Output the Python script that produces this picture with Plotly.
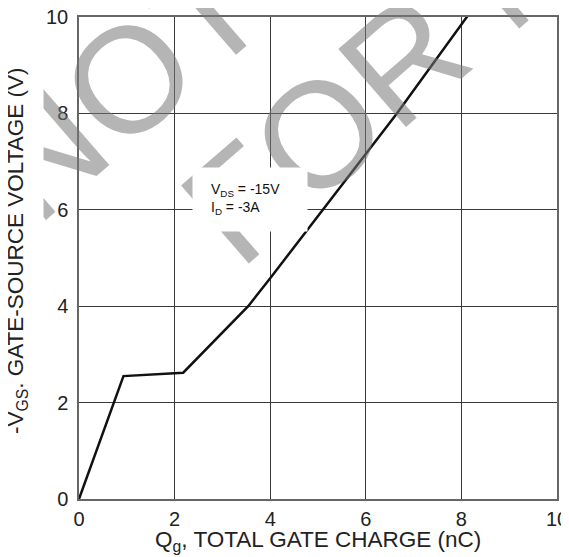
import plotly.graph_objects as go

# Data
qg_nc = [0, 0.93, 2.18, 2.8, 3.54, 4.0, 5.1, 6.0, 6.65, 8.15]
vgs_v = [0, 2.55, 2.62, 3.25, 4.0, 4.58, 6.0, 7.15, 8.0, 10.05]
x_ticks = [0, 2, 4, 6, 8, 10]
y_ticks = [0, 2, 4, 6, 8, 10]
cond_text = "V<sub>DS</sub> = -15V<br>I<sub>D</sub> = -3A"
x_title = "Q<sub>g</sub>, TOTAL GATE CHARGE (nC)"
y_title = "-V<sub>GS</sub>. GATE-SOURCE VOLTAGE (V)"
wm_line1 = "NOT"
wm_line2 = "FOR NEW DESIGN"

# the page has an 8px body margin, so the figure is shrunk to fit the window
OFF = 8
W, H = 569 - OFF, 557 - OFF
PLOT_L, PLOT_R, PLOT_T, PLOT_B = 79, 557, 17, 499   # plot box in window pixels
L, T = PLOT_L - OFF, PLOT_T - OFF
R, B = W + OFF - PLOT_R, H + OFF - PLOT_B
PW, PH = PLOT_R - PLOT_L, PLOT_B - PLOT_T
FONT = "Liberation Sans, Arial, sans-serif"


def px(x):
    return (x - PLOT_L) / PW


def py(y):
    return (PLOT_B - y) / PH


fig = go.Figure()
fig.add_trace(go.Scatter(
    x=qg_nc, y=vgs_v, mode="lines",
    line=dict(color="#111111", width=2.5),
    cliponaxis=False, showlegend=False, hoverinfo="skip",
))

axis_common = dict(
    range=[0, 10], showgrid=True, gridcolor="#3a3a3a", gridwidth=1,
    zeroline=False, showline=True, linecolor="#666666", linewidth=1.5,
    mirror=True, ticks="", tickfont=dict(family=FONT, size=20, color="#222222"),
    ticklabeloverflow="allow", fixedrange=True,
)
fig.update_xaxes(tickvals=x_ticks, ticklabelstandoff=1, **axis_common)
fig.update_yaxes(tickvals=y_ticks, ticklabelstandoff=5, **axis_common)

wm_color = "rgba(120,120,120,0.55)"
wm_size = 150
annotations = [
    # watermark
    dict(text=wm_line1, x=px(122), y=py(85), xref="paper", yref="paper",
         showarrow=False, textangle=-41, xanchor="center", yanchor="middle",
         font=dict(family=FONT, size=wm_size, color=wm_color)),
    dict(text=wm_line2, x=px(705), y=py(-202), xref="paper", yref="paper",
         showarrow=False, textangle=-41, xanchor="center", yanchor="middle",
         font=dict(family=FONT, size=wm_size, color=wm_color)),
    # white box behind the test conditions
    dict(text=" ", x=px(192), y=py(167), xref="paper", yref="paper",
         showarrow=False, xanchor="left", yanchor="top", width=114, height=63,
         bgcolor="white", borderpad=0, font=dict(size=10)),
    dict(text=cond_text, x=px(209), y=py(199), xref="paper", yref="paper",
         showarrow=False, xanchor="left", yanchor="middle", align="left",
         font=dict(family=FONT, size=14, color="#111111")),
    # axis titles
    dict(text=x_title, x=0.5, y=py(541), xref="paper", yref="paper",
         showarrow=False, xanchor="center", yanchor="middle",
         font=dict(family=FONT, size=22.5, color="#222222")),
    dict(text=y_title, x=px(OFF), y=py(251), xref="paper", yref="paper",
         showarrow=False, xanchor="left", yanchor="middle", textangle=-90,
         valign="top", height=40, xshift=-6, bgcolor="white", borderpad=0,
         font=dict(family=FONT, size=22.5, color="#222222")),
]

fig.update_layout(
    width=W, height=H,
    margin=dict(l=L, r=R, t=T, b=B, autoexpand=False),
    paper_bgcolor="white", plot_bgcolor="white",
    annotations=annotations, showlegend=False,
)

fig.write_html("out.html")
